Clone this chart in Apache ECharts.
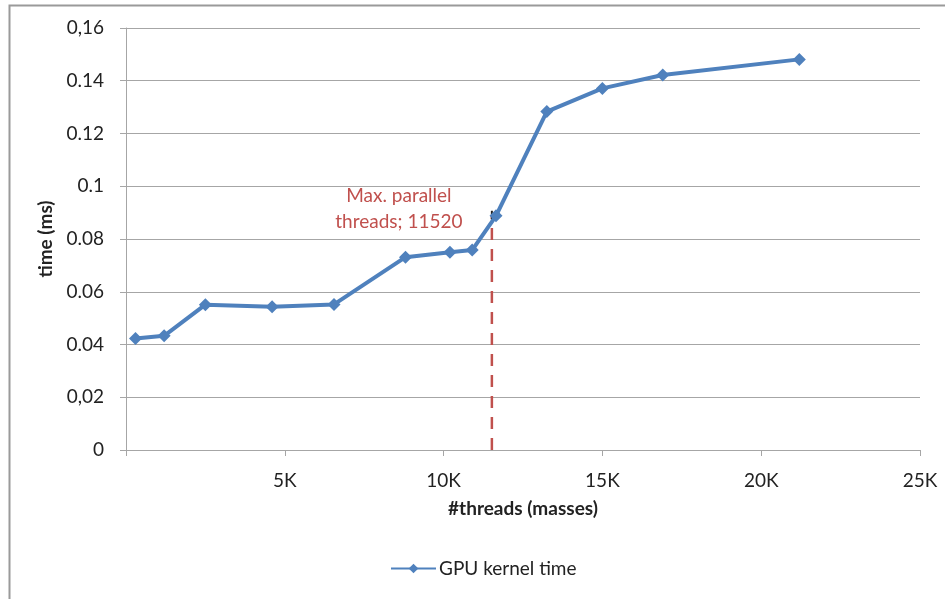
<!DOCTYPE html>
<html>
<head>
<meta charset="utf-8">
<script src="https://cdn.jsdelivr.net/npm/echarts@6/dist/echarts.min.js"></script>
<style>
  html, body { margin: 0; padding: 0; background: #fff; }
  #chart { width: 945px; height: 599px; }
</style>
</head>
<body>
<div id="chart"></div>
<script>
// Kernel timing measurements: number of threads (masses) vs. GPU kernel time
const seriesName = 'GPU kernel time';
const threads = [300, 1200, 2500, 4600, 6550, 8800, 10200, 10900, 11650, 13250, 15000, 16900, 21200];
const kernelTime = [0.0423, 0.0433, 0.0551, 0.0543, 0.0552, 0.0731, 0.0750, 0.0758, 0.0888, 0.1283, 0.1371, 0.1422, 0.1481];

// Hardware limit marker
const maxParallelThreads = 11520;
const maxParallelTop = 0.089;
const maxParallelLabel = 'Max. parallel\nthreads; ' + maxParallelThreads;

// Axis tick labels
const yTickValues = [0, 0.02, 0.04, 0.06, 0.08, 0.1, 0.12, 0.14, 0.16];
const yTickLabels = ['0', '0,02', '0.04', '0.06', '0.08', '0.1', '0.12', '0.14', '0,16'];
const xTickStep = 5000;

const FONT = 'Lato, "Open Sans", sans-serif';
const FS = 19;
const GRID = '#A6A6A6';

const chart = echarts.init(document.getElementById('chart'), null, { renderer: 'canvas' });

function yLabel(v) {
  for (let i = 0; i < yTickValues.length; i++) {
    if (Math.abs(yTickValues[i] - v) < 1e-9) return yTickLabels[i];
  }
  return '';
}

chart.setOption({
  backgroundColor: '#fff',
  animation: false,
  textStyle: { fontFamily: FONT },
  graphic: [{
    type: 'rect',
    left: 7, top: 3,
    shape: { width: 980, height: 640 },
    style: { fill: 'none', stroke: '#9a9a9a', lineWidth: 2 },
    silent: true
  }],
  grid: { left: 126, right: 25, top: 28, bottom: 149, containLabel: false },
  legend: {
    data: [seriesName],
    left: 385, top: 554,
    itemWidth: 45, itemHeight: 12, itemGap: 4,
    textStyle: { fontFamily: FONT, fontSize: FS, color: '#222', padding: [0, 0, 0, -2] }
  },
  xAxis: {
    type: 'value',
    min: 0, max: 25000, interval: xTickStep,
    name: '#threads (masses)',
    nameLocation: 'middle', nameGap: 49,
    nameTextStyle: { fontFamily: FONT, fontSize: FS, fontWeight: 'bold', color: '#222' },
    axisLine: { show: true, lineStyle: { color: GRID, width: 1 } },
    axisTick: { show: true, inside: false, length: 6, lineStyle: { color: GRID } },
    axisLabel: {
      margin: 21, fontFamily: FONT, fontSize: FS, color: '#222',
      formatter: v => v === 0 ? '' : (v / 1000) + 'K'
    },
    splitLine: { show: false }
  },
  yAxis: {
    type: 'value',
    min: 0, max: 0.16, interval: 0.02,
    name: 'time (ms)',
    nameLocation: 'middle', nameGap: 68, nameRotate: 90,
    nameTextStyle: { fontFamily: FONT, fontSize: FS, fontWeight: 'bold', color: '#222' },
    axisLine: { show: true, lineStyle: { color: GRID, width: 1 } },
    axisTick: { show: true, inside: false, length: 6, lineStyle: { color: GRID } },
    axisLabel: { margin: 22, fontFamily: FONT, fontSize: FS, color: '#222', formatter: yLabel },
    splitLine: { show: true, lineStyle: { color: GRID, width: 1 } }
  },
  series: [
    {
      name: 'Max. parallel threads',
      type: 'line',
      data: [
        { value: [maxParallelThreads, 0], symbol: 'none' },
        {
          value: [maxParallelThreads, maxParallelTop],
          symbol: 'rect', symbolSize: [2, 9],
          itemStyle: { color: '#222' },
          label: {
            show: true, position: 'inside', offset: [-93, -6],
            formatter: maxParallelLabel,
            align: 'center', verticalAlign: 'middle',
            fontFamily: FONT, fontSize: FS, lineHeight: 26, color: '#C0504D'
          }
        }
      ],
      lineStyle: { color: '#C0504D', width: 2.5, type: [12, 9] },
      z: 1,
      silent: true
    },
    {
      name: seriesName,
      type: 'line',
      data: threads.map((t, i) => [t, kernelTime[i]]),
      symbol: 'diamond', symbolSize: 13,
      showAllSymbol: true,
      itemStyle: { color: '#4F81BD' },
      lineStyle: { color: '#4F81BD', width: 4 },
      z: 3
    }
  ]
});
</script>
</body>
</html>
